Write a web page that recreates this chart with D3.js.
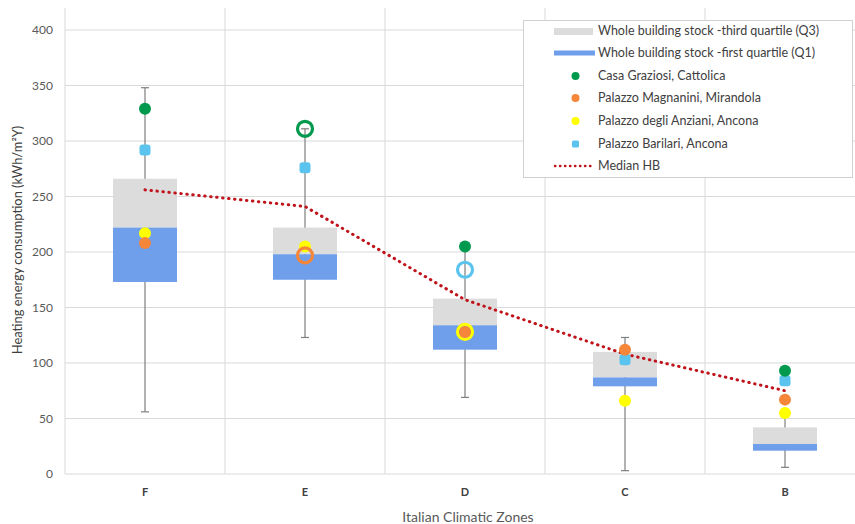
<!DOCTYPE html>
<html>
<head>
<meta charset="utf-8">
<script src="https://cdn.jsdelivr.net/npm/d3@7"></script>
<style>
  html, body { margin: 0; padding: 0; background: #fff; }
  svg { display: block; font-family: Lato, "Open Sans", "Liberation Sans", sans-serif; }
</style>
</head>
<body>
<svg id="chart" width="855" height="524"></svg>
<script>
// Climatic zones (x categories)
const zones = ["F", "E", "D", "C", "B"];

// Whole building stock distribution per zone (kWh/m²Y)
const stockMin    = [56, 123, 69, 3, 6];
const stockQ1     = [173, 175, 112, 79, 21];
const stockMedian = [222, 198, 134, 87, 27];
const stockQ3     = [266, 222, 158, 110, 42];
const stockMax    = [348, 311, 205, 123, 52];

// Case-study buildings
const casaGraziosi      = [329, 311, 205, null, 93];
const palazzoMagnanini  = [208, 197, 128, 112, 67];
const palazzoAnziani    = [217, 205, 128, 66, 55];
const palazzoBarilari   = [292, 276, 184, 103, 84];

// Median of historic buildings
const medianHB = [256, 241, 157, 108, 75];

const yTicks = [0, 50, 100, 150, 200, 250, 300, 350, 400];

const svg = d3.select("#chart");
const left = 65, right = 865, bottom = 474, yTop400 = 30, plotTop = 8;

const x = d3.scaleBand().domain(zones).range([left, right]).paddingInner(0).paddingOuter(0);
const y = d3.scaleLinear().domain([0, 400]).range([bottom, yTop400]);
const cx = d => x(d) + x.bandwidth() / 2;
const boxW = x.bandwidth() * 0.4;

const grid = "#d9d9d9";

// horizontal gridlines
svg.append("g").selectAll("line").data(yTicks).join("line")
  .attr("x1", left).attr("x2", right)
  .attr("y1", d => y(d)).attr("y2", d => y(d))
  .attr("stroke", grid).attr("stroke-width", 1);

// vertical category gridlines
const bounds = zones.map(z => x(z)).concat([right]);
svg.append("g").selectAll("line").data(bounds).join("line")
  .attr("x1", d => d).attr("x2", d => d)
  .attr("y1", plotTop).attr("y2", bottom)
  .attr("stroke", grid).attr("stroke-width", 1);

// y axis labels
const yAxis = d3.axisLeft(y).tickValues(yTicks).tickSize(0).tickPadding(12);
const gy = svg.append("g").attr("transform", `translate(${left},0)`).call(yAxis);
gy.select(".domain").remove();
gy.selectAll("text").attr("fill", "#595959").style("font-size", "12px")
  .style("font-family", "Lato, 'Open Sans', sans-serif");

// x axis labels
const xAxis = d3.axisBottom(x).tickSize(0).tickPadding(14);
const gx = svg.append("g").attr("transform", `translate(0,${bottom})`).call(xAxis);
gx.select(".domain").remove();
gx.selectAll("text").attr("fill", "#404040").style("font-size", "11px").style("font-weight", "bold")
  .style("font-family", "Lato, 'Open Sans', sans-serif");

// axis titles
svg.append("text")
  .attr("transform", `translate(22,240) rotate(-90)`)
  .attr("text-anchor", "middle").attr("fill", "#404040").style("font-size", "12.9px")
  .text("Heating energy consumption (kWh/m²Y)");
svg.append("text")
  .attr("x", 468).attr("y", 522)
  .attr("text-anchor", "middle").attr("fill", "#595959").style("font-size", "14px")
  .text("Italian Climatic Zones");

// whiskers
const wh = svg.append("g").attr("stroke", "#7f7f7f").attr("stroke-width", 1.2);
zones.forEach((z, i) => {
  wh.append("line").attr("x1", cx(z)).attr("x2", cx(z)).attr("y1", y(stockMin[i])).attr("y2", y(stockMax[i]));
  wh.append("line").attr("x1", cx(z) - 4).attr("x2", cx(z) + 4).attr("y1", y(stockMin[i])).attr("y2", y(stockMin[i]));
  wh.append("line").attr("x1", cx(z) - 4).attr("x2", cx(z) + 4).attr("y1", y(stockMax[i])).attr("y2", y(stockMax[i]));
});

// boxes: grey upper part (median → Q3) and blue lower part (Q1 → median)
svg.append("g").selectAll("rect").data(zones).join("rect")
  .attr("x", d => cx(d) - boxW / 2).attr("width", boxW)
  .attr("y", (d, i) => y(stockQ3[i]))
  .attr("height", (d, i) => y(stockMedian[i]) - y(stockQ3[i]))
  .attr("fill", "#dcdcdc");
svg.append("g").selectAll("rect").data(zones).join("rect")
  .attr("x", d => cx(d) - boxW / 2).attr("width", boxW)
  .attr("y", (d, i) => y(stockMedian[i]))
  .attr("height", (d, i) => y(stockQ1[i]) - y(stockMedian[i]))
  .attr("fill", "#6f9eea");

// median HB dotted line
const line = d3.line().x((d, i) => cx(zones[i])).y(d => y(d));
svg.append("path").datum(medianHB)
  .attr("d", line).attr("fill", "none")
  .attr("stroke", "#c0141c").attr("stroke-width", 3)
  .attr("stroke-linecap", "round")
  .attr("stroke-dasharray", "0.5 5.5");

// building markers
const series = [
  { name: "Casa Graziosi, Cattolica", values: casaGraziosi, color: "#00994d", shape: "circle", hollow: ["E"] },
  { name: "Palazzo Magnanini, Mirandola", values: palazzoMagnanini, color: "#f5863a", shape: "circle", hollow: ["E"] },
  { name: "Palazzo degli Anziani, Ancona", values: palazzoAnziani, color: "#ffff00", shape: "circle", hollow: ["D"] },
  { name: "Palazzo Barilari, Ancona", values: palazzoBarilari, color: "#5bc4ee", shape: "square", hollow: ["D"] }
];
const drawOrder = [3, 2, 0, 1]; // Barilari, Anziani, Graziosi, Magnanini
const markers = svg.append("g");
drawOrder.forEach(si => {
  const s = series[si];
  s.values.forEach((v, i) => {
    if (v == null) return;
    const z = zones[i];
    const px = cx(z), py = y(v);
    if (s.hollow.includes(z)) {
      markers.append("circle").attr("cx", px).attr("cy", py).attr("r", 7.5)
        .attr("fill", "none").attr("stroke", s.color).attr("stroke-width", 3.2);
    } else if (s.shape === "square") {
      markers.append("rect").attr("x", px - 5.5).attr("y", py - 5.5).attr("width", 11).attr("height", 11)
        .attr("rx", 3).attr("fill", s.color);
    } else {
      markers.append("circle").attr("cx", px).attr("cy", py).attr("r", 6).attr("fill", s.color);
    }
  });
});
// Magnanini point inside the Anziani ring in zone D
markers.append("circle").attr("cx", cx("D")).attr("cy", y(palazzoMagnanini[2])).attr("r", 4.5)
  .attr("fill", "#f5863a");

// legend
const lg = svg.append("g");
lg.append("rect").attr("x", 523.5).attr("y", 20.5).attr("width", 329).attr("height", 157)
  .attr("fill", "#fff").attr("stroke", "#d0d0d0").attr("stroke-width", 1);
const rows = [31, 53, 76, 98, 121, 144, 166];
const labels = ["Whole building stock -third quartile (Q3)", "Whole building stock -first quartile (Q1)"]
  .concat(series.map(s => s.name)).concat(["Median HB"]);
lg.append("rect").attr("x", 554).attr("y", rows[0] - 3).attr("width", 39).attr("height", 7).attr("fill", "#dcdcdc");
lg.append("rect").attr("x", 554).attr("y", rows[1] - 2.5).attr("width", 41).attr("height", 5).attr("fill", "#6f9eea");
series.forEach((s, k) => {
  const ry = rows[k + 2];
  if (s.shape === "square") {
    lg.append("rect").attr("x", 572).attr("y", ry - 3.5).attr("width", 7).attr("height", 7).attr("rx", 1.5).attr("fill", s.color);
  } else {
    lg.append("circle").attr("cx", 575.5).attr("cy", ry).attr("r", 4).attr("fill", s.color);
  }
});
lg.append("line").attr("x1", 555).attr("x2", 593).attr("y1", rows[6]).attr("y2", rows[6])
  .attr("stroke", "#c0141c").attr("stroke-width", 2.4)
  .attr("stroke-linecap", "round").attr("stroke-dasharray", "0.4 4.6");
lg.selectAll("text.lab").data(labels).join("text").attr("class", "lab")
  .attr("x", 598).attr("y", (d, i) => rows[i]).attr("dy", "0.35em")
  .attr("fill", "#404040").style("font-size", "12.5px").text(d => d);
</script>
</body>
</html>
